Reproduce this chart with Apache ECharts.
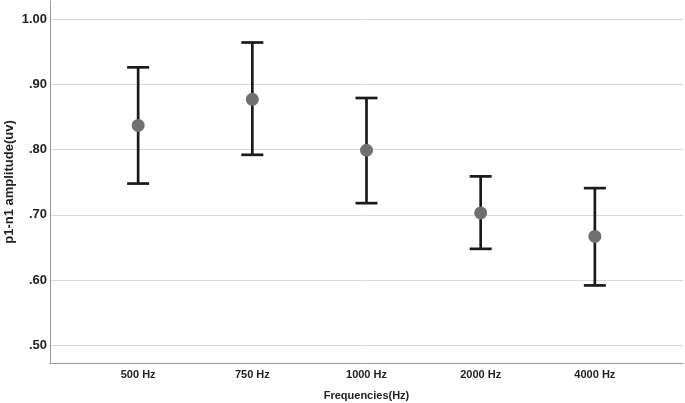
<!DOCTYPE html>
<html>
<head>
<meta charset="utf-8">
<script src="https://cdn.jsdelivr.net/npm/echarts@6/dist/echarts.min.js"></script>
<style>html,body{margin:0;padding:0;background:#fff}#c{width:685px;height:403px}</style>
</head>
<body>
<div id="c"></div>
<script>
var categories = ['500 Hz', '750 Hz', '1000 Hz', '2000 Hz', '4000 Hz'];
var meanValues = [0.837, 0.877, 0.799, 0.703, 0.667];
var lowerValues = [0.748, 0.792, 0.718, 0.648, 0.592];
var upperValues = [0.926, 0.964, 0.879, 0.759, 0.741];
var yTicks = [0.5, 0.6, 0.7, 0.8, 0.9, 1.0];

var chart = echarts.init(document.getElementById('c'), null, {renderer: 'canvas'});
var FONT = '"Liberation Sans", Arial, sans-serif';
var xMin = -0.772, xMax = categories.length - 1 + 0.772;

function fmtY(v) {
  var s = v.toFixed(2);
  return s.charAt(0) === '0' ? s.substring(1) : s;
}

var errData = categories.map(function (c, i) { return [i, lowerValues[i], upperValues[i]]; });
var meanData = categories.map(function (c, i) { return [i, meanValues[i]]; });

chart.setOption({
  animation: false,
  grid: [
    {left: 50, right: 2, top: 19, bottom: 57.5, containLabel: false, outerBoundsMode: 'none'},
    {left: 50, right: 2, top: 1, bottom: 40, containLabel: false, outerBoundsMode: 'none'}
  ],
  xAxis: [
    {gridIndex: 0, type: 'value', min: xMin, max: xMax, show: false},
    {gridIndex: 1, type: 'value', min: xMin, max: xMax,
     axisLine: {show: true, onZero: false, lineStyle: {color: '#999', width: 1}},
     axisTick: {show: false}, splitLine: {show: false},
     axisLabel: {
       customValues: categories.map(function (c, i) { return i; }),
       formatter: function (v) { return categories[Math.round(v)] || ''; },
       color: '#222', fontWeight: 'bold', fontSize: 11, fontFamily: FONT, margin: 6
     },
     name: 'Frequencies(Hz)', nameLocation: 'middle', nameGap: 27,
     nameTextStyle: {color: '#222', fontWeight: 'bold', fontSize: 11, fontFamily: FONT}
    }
  ],
  yAxis: [
    {gridIndex: 0, type: 'value', min: yTicks[0], max: yTicks[yTicks.length - 1], interval: 0.1,
     axisLine: {show: false}, axisTick: {show: false},
     splitLine: {show: true, lineStyle: {color: '#d9d9d9', width: 1}},
     axisLabel: {formatter: fmtY, color: '#222', fontWeight: 'bold', fontSize: 13, fontFamily: FONT, margin: 3}
    },
    {gridIndex: 1, type: 'value', min: 0.4725, max: 1.0275,
     axisLine: {show: true, onZero: false, lineStyle: {color: '#999', width: 1}},
     axisTick: {show: false}, splitLine: {show: false}, axisLabel: {show: false},
     name: 'p1-n1 amplitude(uv)', nameLocation: 'middle', nameGap: 34, nameRotate: 90,
     nameTextStyle: {color: '#222', fontWeight: 'bold', fontSize: 13, fontFamily: FONT}
    }
  ],
  series: [
    {
      type: 'custom', xAxisIndex: 0, yAxisIndex: 0, data: errData,
      renderItem: function (params, api) {
        var x = api.value(0);
        var lo = api.coord([x, api.value(1)]);
        var hi = api.coord([x, api.value(2)]);
        var hw = 11;
        var st = {stroke: '#1a1a1a', lineWidth: 2.7, fill: null};
        return {
          type: 'group',
          children: [
            {type: 'line', shape: {x1: lo[0], y1: lo[1], x2: hi[0], y2: hi[1]}, style: st},
            {type: 'line', shape: {x1: lo[0] - hw, y1: lo[1], x2: lo[0] + hw, y2: lo[1]}, style: st},
            {type: 'line', shape: {x1: hi[0] - hw, y1: hi[1], x2: hi[0] + hw, y2: hi[1]}, style: st}
          ]
        };
      },
      z: 2
    },
    {
      type: 'scatter', xAxisIndex: 0, yAxisIndex: 0, data: meanData,
      symbol: 'circle', symbolSize: 13,
      itemStyle: {color: '#707070', opacity: 1},
      z: 3
    }
  ]
});
</script>
</body>
</html>
